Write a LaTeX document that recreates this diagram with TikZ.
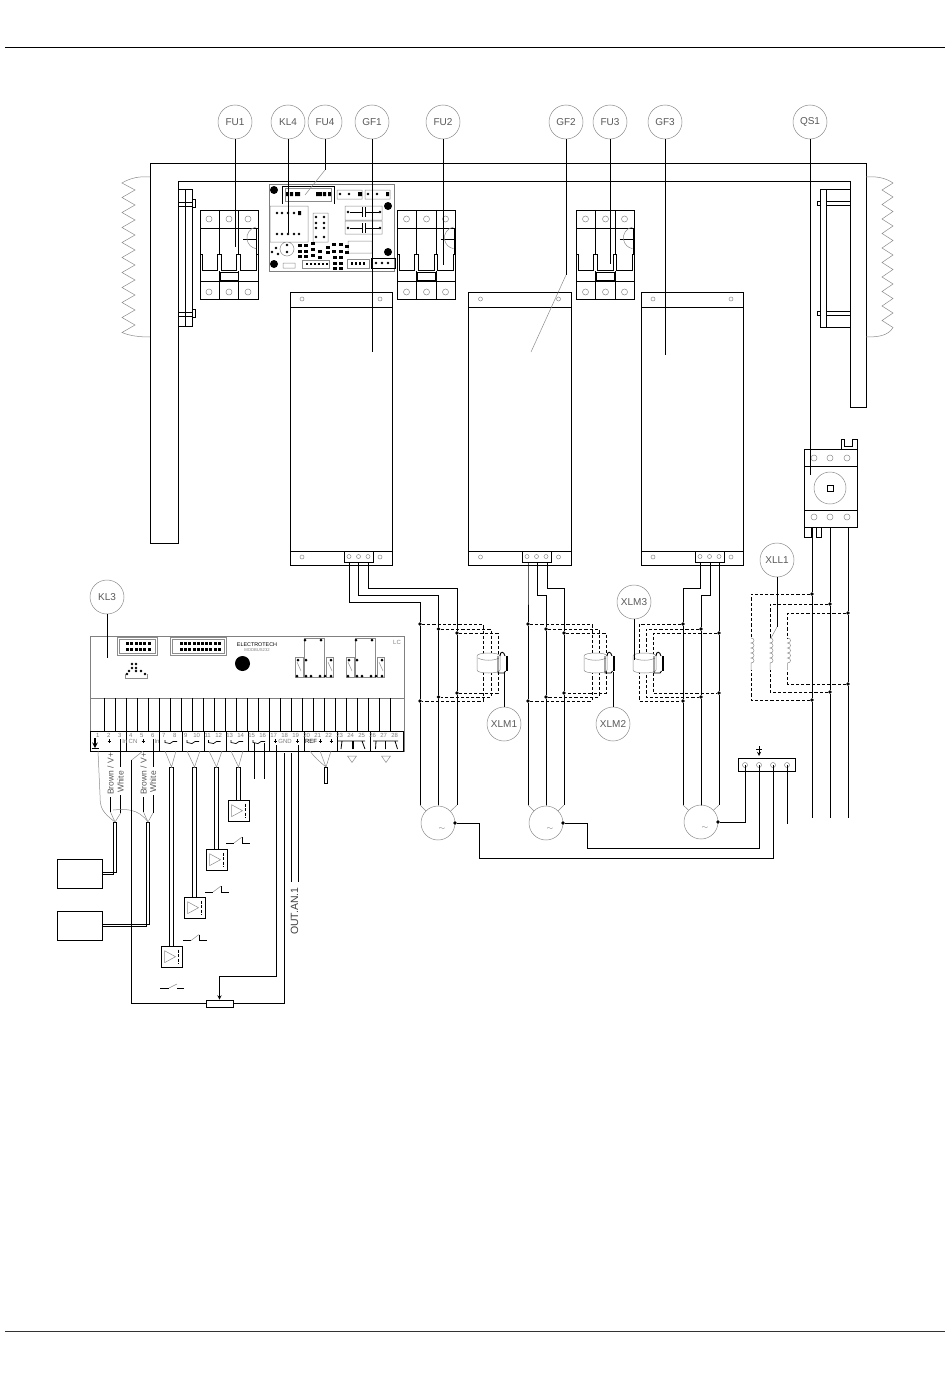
\documentclass[tikz,border=0pt]{standalone}
\usepackage{fontspec}
\setmainfont{Liberation Sans}
\usetikzlibrary{positioning}

\tikzset{
  wire/.style={line width=.9pt,black},
  thingray/.style={line width=.5pt,black!45},
  dashwire/.style={line width=.9pt,black,dash pattern=on 3.2pt off 2pt},
  balloon/.style={circle,draw=black!45,line width=.5pt,minimum size=34pt,inner sep=0pt,
    text=black!65,font=\fontsize{10}{10}\selectfont},
  dot/.style={circle,fill=black,inner sep=0pt,minimum size=3.6pt},
  pcbdot/.style={circle,fill=black,inner sep=0pt,minimum size=2.6pt},
  motor/.style={circle,draw=black!45,line width=.5pt,minimum size=34pt,inner sep=0pt},
  sensorbox/.style={rectangle,draw=black,line width=.9pt,minimum width=21pt,minimum height=20.5pt,
    inner sep=0pt,anchor=north},
  numtxt/.style={text=black!50,inner sep=0pt,font=\fontsize{6}{6}\selectfont},
  sidetxt/.style={rotate=90,anchor=west,inner sep=0pt,text=black!65,font=\fontsize{8.5}{8.5}\selectfont},
}

% breaker, left edge at #1
\newcommand{\breakerunit}[1]{
  \begin{scope}[shift={(#1,0)}]
    \draw[wire] (0,210) rectangle (58,299);
    \draw[wire] (19,210) -- (19,254) (38.5,210) -- (38.5,254)
      (19,271) -- (19,299) (38.5,271) -- (38.5,299)
      (0,228) -- (58,228) (0,281) -- (58,281);
    \draw[wire] (0,254) -- (2,254) -- (2,270.5) -- (17,270.5) -- (17,254) -- (21,254) -- (21,270.5)
      -- (36.5,270.5) -- (36.5,254) -- (40,254) -- (40,270.5) -- (56,270.5) -- (56,254) -- (58,254);
    \draw[wire] (20,272.5) rectangle (38,280);
    \draw[wire] (43,228) -- (56.5,228) -- (56.5,254) (43,239) -- (56.5,239);
    \draw[thingray] (56,227) arc[start angle=100,end angle=260,radius=11pt];
    \foreach \sx in {9,29,48} {
      \draw[thingray] (\sx,219) circle (3pt);
      \draw[thingray] (\sx,292) circle (3pt);
    }
  \end{scope}
}

% drive body
\newcommand{\driveunit}[2]{
  \begin{scope}[shift={(#1,0)}]
    \draw[wire] (0,292) rectangle (102.5,565);
    \draw[wire] (0,307) -- (102.5,307) (0,551) -- (102.5,551);
    \foreach \sx in {12,90} {
      \draw[thingray] (\sx,299) circle (2pt);
      \draw[thingray] (\sx,557) circle (2pt);
    }
  \end{scope}
  \begin{scope}[shift={(#2,0)}]
    \draw[wire,fill=white] (0,551) rectangle (29,562.5);
    \foreach \sx in {5,14.5,24} \draw[thingray] (\sx,556.5) circle (2pt);
  \end{scope}
}

% current clamp
\newcommand{\clampunit}[1]{
  \begin{scope}[shift={(#1,0)}]
    \draw[thingray,fill=white] (0,656) .. controls (0,652) and (23,652) .. (23,656) -- (23,670)
      .. controls (23,674) and (0,674) .. (0,670) -- cycle;
    \draw[thingray] (1,658) .. controls (6,661) and (17,661) .. (22,658);
    \draw[wire] (21,656) -- (21,673) -- (27,673) -- (28.5,671);
    \draw[line width=2pt] (29.5,656) -- (29.5,671);
    \draw[wire] (23,656) .. controls (23,651) and (27,651) .. (28,656);
  \end{scope}
}

\begin{document}
\begin{tikzpicture}[x=1pt,y=-1pt]
  \useasboundingbox (0,0) rectangle (950,1378);
  \fill[white] (0,0) rectangle (950,1378);

  % page rules
  \draw[line width=.7pt] (5,47) -- (945,47);
  \draw[line width=.7pt,black!80] (5,1331) -- (945,1331);

  % cabinet frame
  \draw[wire] (178,543) -- (150,543) -- (150,163) -- (866,163) -- (866,407) -- (850,407) -- (850,181)
    -- (178,181) -- cycle;

  % fans
  \draw[wire] (178,189) -- (192,189) -- (192,326) -- (178,326) (185,189) -- (185,326)
    (178,202) -- (192,202) (178,206) -- (192,206) (178,312) -- (192,312) (178,316) -- (192,316)
    (192,199) -- (195,199) -- (195,207) -- (192,207) (192,309) -- (195,309) -- (195,317) -- (192,317);
  \draw[wire] (850,189) -- (820,189) -- (820,327) -- (850,327) (826,189) -- (826,327)
    (826,201) -- (850,201) (826,205) -- (850,205) (826,311) -- (850,311) (826,315) -- (850,315)
    (820,201) -- (817,201) -- (817,205.5) -- (820,205.5) (820,311) -- (817,311) -- (817,315.5) -- (820,315.5);
  \draw[thingray] (150,177) .. controls (140,176) and (130,178) .. (122,183)
    \foreach \k in {0,...,9} { -- (135,{190+15*\k}) -- (122,{197.5+15*\k}) }
    .. controls (130,336) and (140,337) .. (150,337);
  \draw[thingray] (866,177) .. controls (876,176) and (886,178) .. (893,183)
    \foreach \k in {0,...,9} { -- (882,{190+14.5*\k}) -- (893,{197+14.5*\k}) }
    .. controls (888,336) and (878,337) .. (866,337);

  % breakers
  \breakerunit{200}
  \breakerunit{397.5}
  \breakerunit{576.5}

  % PCB top
  \draw[line width=.7pt,black!50] (269,184) rectangle (394,271);
  \foreach \px/\py in {274/190,388/206,388/252,274/264} \fill (\px,\py) circle (4pt);
  \draw[line width=.7pt] (282,186) -- (334,186) (282,186) -- (282,204) (334,186) -- (334,204);
  \draw[thingray] (285,188) rectangle (331,201);
  \fill (286,192) rectangle (289,196) (290,192) rectangle (293,196) (295,192) rectangle (300,196)
    (316,192) rectangle (322,196) (323,192) rectangle (326,196) (328,192) rectangle (331,196);
  \draw[thingray] (337,190) rectangle (362,199) (365,190) rectangle (390,199)
    (270,206) rectangle (308,242) (313,213) rectangle (328,242)
    (345,206) rectangle (382,220) (345,221) rectangle (382,234)
    (348,241) rectangle (372,253) (283,263) rectangle (295,268) (287,249) circle (7pt);
  \foreach \px/\py in {340/194,349/194,368/194,377/194,277/213,282/213,288/213,294/213,
    277/234,282/234,288/234,294/234,299/234,316/217,324/217,316/223,324/223,316/228,324/228,
    316/237,324/237,287/245,287/252,276/248,272/252,278/254}
    \node[pcbdot] at (\px,\py) {};
  \fill (358,192) rectangle (362,196) (386,192) rectangle (389,196) (298,211) rectangle (301,215);
  \foreach \cy in {212,228} {
    \node[pcbdot] (capa\cy) at (348,\cy) {};
    \node[pcbdot] (capb\cy) at (380,\cy) {};
    \draw[line width=.7pt] (capa\cy) -- (362,\cy) (362,{\cy-5}) -- (362,{\cy+5})
      (365,{\cy-5}) -- (365,{\cy+5}) (365,\cy) -- (capb\cy);
  }
  \foreach \px/\py in {298/244,304/244,311/242,298/250,304/250,311/248,318/250,298/255,304/255,
    311/254,318/256,326/246,332/243,339/243,326/251,332/250,339/250,333/256,339/256,
    333/262,339/262,333/267,339/267,345/245,345/251} \fill (\px,\py) rectangle ++(4,2.5);
  \draw[thingray] (302,260) rectangle (329,268) (347,259) rectangle (369,268);
  \draw[line width=.7pt] (371,258) rectangle (395,268);
  \foreach \px in {306,310,...,326} \fill (\px,263) rectangle ++(2.4,1.5);
  \foreach \px in {351,355,...,365} \fill (\px,262) rectangle ++(2.4,3);
  \foreach \px in {376,382,388} \node[pcbdot] at (\px,263) {};

  % drives
  \driveunit{290}{344}
  \driveunit{468.5}{522}
  \driveunit{641}{695}

  % disconnector
  \draw[wire] (804,449) rectangle (857,527);
  \draw[wire] (804,466) -- (857,466) (804,510) -- (857,510);
  \draw[wire] (841,449) -- (841,439) -- (844,439) -- (844,446) -- (852,446) -- (852,439) -- (857,439) -- (857,449);
  \draw[wire] (804,527) -- (804,537) -- (811,537) -- (811,527) (816,527) -- (816,537) -- (821,537) -- (821,527);
  \draw[thingray] (830,488) circle (16pt);
  \draw[wire] (827,485) rectangle (833,491);
  \foreach \sx in {814,830,847} {
    \draw[thingray] (\sx,458) circle (3pt);
    \draw[thingray] (\sx,517) circle (3pt);
  }

  % motors
  \node[motor] (M1) at (438,823) {};
  \node[motor] (M2) at (546,823) {};
  \node[motor] (M3) at (701,822) {};
  \foreach \m in {1,2,3} \node[numtxt,font=\fontsize{8}{8}\selectfont] (tilde\m) at ([shift={(4,6)}]M\m.center) {$\sim$};

  % motor cables and junctions
  \foreach \n/\tx/\wy/\mx/\lx/\ya/\yb/\m in {
    1/349/602/420/483/624/701/1, 2/358/595/438.5/491/629/697/1, 3/368/588/457/498/633/693/1,
    4/528/588/528/592/624/701/2, 5/537/595/546/599/629/697/2, 6/547/588/564/606/633/693/2,
    7/700/588/683/639/624/701/3, 8/710/595/701/646/629/697/3, 9/719/588/719/653/633/693/3} {
    \coordinate (t\n) at (\tx,562);
    \node[dot] (a\n) at (\mx,\ya) {};
    \node[dot] (b\n) at (\mx,\yb) {};
    \coordinate (e\n) at (\mx,805);
    \draw[wire] (t\n) |- (\mx,\wy) -- (a\n) -- (b\n) -- (e\n);
    \draw[thingray] (e\n) -- (M\m);
    \draw[dashwire] (a\n) -| (\lx,\yb) -- (b\n);
  }

  % clamps
  \clampunit{477}
  \clampunit{584}
  \clampunit{633}

  % choke and line side
  \foreach \q/\wx/\lx/\ya/\yb in {1/812/751/594/700, 2/830/770/604/692, 3/848/787.5/613/684} {
    \coordinate (q\q) at (\wx,527);
    \coordinate (qe\q) at (\wx,818);
    \node[dot] (la\q) at (\wx,\ya) {};
    \node[dot] (lb\q) at (\wx,\yb) {};
    \draw[wire] (q\q) -- (la\q) -- (lb\q) -- (qe\q);
    \draw[dashwire] (la\q) -| (\lx,638);
    \draw[dashwire] (lb\q) -| (\lx,670);
    \draw[thingray] (\lx,638) \foreach \k in {0,...,4} {
      .. controls ({\lx+4},{638+5*\k}) and ({\lx+4},{643+5*\k}) .. (\lx,{643+5*\k}) } -- (\lx,670);
  }

  % earth bar
  \node[draw=black,line width=.9pt,minimum width=57pt,minimum height=13pt,inner sep=0pt] (PE) at (766.5,764.5) {};
  \foreach \e/\ex in {1/745,2/759,3/773,4/787} {
    \coordinate (pe\e) at (\ex,765);
    \draw[thingray] (pe\e) circle (2.5pt);
  }
  \node[dot] (mo1) at (455,823) {};
  \node[dot] (mo2) at (563,823) {};
  \node[dot] (mo3) at (718,822) {};
  \coordinate (pend) at (787,824);
  \draw[wire] (mo1) -- (479,823) -- (479,858) -| (pe3);
  \draw[wire] (mo2) -- (587,823) -- (587,848) -| (pe2);
  \draw[wire] (mo3) -| (pe1);
  \draw[wire] (pe4) -- (pend);
  \draw[wire,-stealth] (759,746) -- (759,756);
  \draw[line width=.6pt] (756,749) -- (762,749);

  % KL3 board
  \draw[line width=.7pt,black!50] (90,636) rectangle (404,751);
  \draw[line width=.7pt,black!50] (90,698) -- (404,698);
  \draw[wire] (90,731) -- (404,731) (90,751) -- (404,751);
  \foreach \i in {0,...,26} \draw[wire] ({104.3+11*\i},698) -- ({104.3+11*\i},731);
  \foreach \sx in {90.7,126.7,159.7,182,204,226,248,269,304,337,370,403}
    \draw[wire] (\sx,731) -- (\sx,751);
  \foreach \i in {1,...,28} \node[numtxt] (n\i) at ({86.7+11*\i},735.5) {\i};

  % terminal marks
  \foreach \sx in {165,187,208.5,231,253} \draw[line width=.7pt] (\sx,740) -- (\sx,742.5)
    -- ({\sx+5},743.5) -- ({\sx+8},741.5) -- ({\sx+12},741.5);
  \foreach \sx in {109,143,275.7,297.7,320,331} \draw[line width=.8pt] ({\sx-1.5},741) -- ({\sx+1.5},741) (\sx,739) -- (\sx,743);
  \draw[line width=1.4pt,-stealth] (95,738) -- (95,748);
  \draw[line width=.7pt] (91.5,748.5) -- (98.5,748.5);
  \node[numtxt] (inA) at (125,741.5) {In};
  \node[numtxt] (cmA) at (133,741.5) {CN};
  \node[numtxt] (inB) at (157,741.5) {In};
  \node[numtxt] (gnd) at (285,741) {GND};
  \node[numtxt,text=black] (refT) at (311,741) {REF};
  \draw[line width=.8pt] (338,741) -- (365,741) (342,741) -- (341,749) (353,741) -- (353,749)
    (362,741) -- (365,749) (373,741) -- (398,741) (376,741) -- (375.5,749) (385.5,741) -- (385.5,749) (395,741) -- (397.5,749);
  \draw[line width=1.6pt] (353,741) -- (353,749);
  \draw[thingray] (347.5,756) -- (356.5,756) -- (352,762.5) -- cycle (381.5,756) -- (390.5,756) -- (386,762.5) -- cycle;

  % KL3 connectors
  \draw[thingray] (117,637) rectangle (157,655) (119,639) rectangle (155,653)
    (170,637) rectangle (226,655) (172,639) rectangle (224,653);
  \foreach \k in {0,...,5} { \fill ({126+4.3*\k},642) rectangle ++(3,2.8); \fill ({126+4.3*\k},648) rectangle ++(3,2.8); }
  \foreach \k in {0,...,9} { \fill ({180+4.2*\k},642) rectangle ++(3,2.8); \fill ({180+4.2*\k},648) rectangle ++(3,2.8); }
  \foreach \px/\py in {132/664,136/664,132/668,136/668,129/671,136/671,141/671,127/674,145/674}
    \node[pcbdot] at (\px,\py) {};
  \draw[thingray] (125,674) -- (125,678) -- (147,678) -- (147,674);
  \fill (242.5,663.5) circle (7.5pt);
  \node[inner sep=0pt,font=\fontsize{5.4}{5.4}\selectfont] (brand) at (257,645) {ELECTROTECH};
  \node[inner sep=0pt,text=black!50,below=1pt of brand,font=\fontsize{4.2}{4.2}\selectfont] (model) {MODBUS232};
  \node[numtxt] (lcT) at (397,642) {LC};

  % relays
  \foreach \rx in {0,51} {
    \begin{scope}[shift={(\rx,0)}]
      \draw[thingray] (304,638) rectangle (324,677) (295,657) rectangle (303,677) (326,657) rectangle (333,677);
      \draw[thingray] (297,662) -- (301,671) (328,662) -- (332,671);
      \foreach \px/\py in {305/640,321/640,306/660,306/676,311/676,320/676,325/676,297/676,298/660,331/660,331/676}
        \node[pcbdot,minimum size=3pt] at (\px,\py) {};
    \end{scope}
  }

  % sensor wires and boxes
  \foreach \n/\cx/\ytop/\la/\lb in {1/171.5/946/165/176,2/194.5/897/187/200,3/216.5/849/209/222,4/238.5/800/231/243} {
    \node[sensorbox] (S\n) at (\cx,\ytop) {};
    \coordinate (c\n) at (\cx,767);
    \draw[wire] ([xshift=-2pt]S\n.north) |- (c\n) -| ([xshift=2pt]S\n.north);
    \draw[thingray] (\la,751) -- (c\n) -- (\lb,751);
    \draw[thingray] ([shift={(-7,-6)}]S\n.center) -- ([shift={(-7,6)}]S\n.center) -- ([shift={(4,0)}]S\n.center) -- cycle;
    \draw[line width=.8pt,dash pattern=on 3pt off 1.5pt] ([shift={(6.5,-7)}]S\n.center) -- ([shift={(6.5,7)}]S\n.center);
  }

  % contact symbols
  \draw[wire] (160,988) -- (169,988) (177,988) -- (184,988);
  \draw[thingray] (169,988) -- (177,984);
  \foreach \sx/\sy in {183/940.5,205/892,226/843} {
    \draw[wire] (\sx,\sy) -- ({\sx+8},\sy) ({\sx+16},{\sy-6}) -- ({\sx+16},\sy) -- ({\sx+24},\sy);
    \draw[thingray] ({\sx+8},\sy) -- ({\sx+16},{\sy-6});
  }

  % sensors 4-20 mA
  \node[draw=black,line width=.9pt,minimum width=45pt,minimum height=29pt,inner sep=0pt] (T1) at (79.5,873.5) {};
  \node[draw=black,line width=.9pt,minimum width=45pt,minimum height=29pt,inner sep=0pt] (T2) at (79.5,925.5) {};
  \coordinate (v1a) at (110.5,812);
  \coordinate (v1b) at (120.7,813);
  \coordinate (v1) at (115,822);
  \coordinate (v2a) at (143.5,812);
  \coordinate (v2b) at (153,813);
  \coordinate (v2) at (148,822);
  \draw[wire] ([yshift=-1pt]T1.east) -| (113,822) -- (116.7,822) |- ([yshift=1pt]T1.east);
  \draw[wire] ([yshift=-1pt]T2.east) -| (146.5,822) -- (149.5,822) |- ([yshift=1pt]T2.east);
  \draw[wire] (v1a) -- (110.5,797) (v1b) -- (120.7,795) (v2a) -- (143.5,797) (v2b) -- (153,795);
  \draw[thingray] (v1a) -- (v1) -- (v1b) (v2a) -- (v2) -- (v2b);
  \draw[thingray] (v1) .. controls (102,812) and (100,808) .. (100,795) -- (98,751);
  \draw[thingray] (113,810) .. controls (125,809) and (138,808) .. (v2);
  \draw[wire] (120.7,739) -- (120.7,767) (153,739) -- (153,767);
  \node[sidetxt] (brownA) at (110.5,795) {Brown / V+};
  \node[sidetxt] (whiteA) at (120.7,793) {White};
  \node[sidetxt] (brownB) at (143.5,795) {Brown / V+};
  \node[sidetxt] (whiteB) at (153,793) {White};

  % potentiometer and analog side
  \node[draw=black,line width=.9pt,minimum width=27pt,minimum height=7pt,inner sep=0pt] (POT) at (219.5,1003.5) {};
  \coordinate (tcom) at (131.7,760);
  \coordinate (t18a) at (284,753);
  \coordinate (t17) at (276.7,745);
  \draw[thingray] (tcom) -- (143,751);
  \draw[wire] (tcom) |- (POT.west);
  \draw[wire] (POT.east) -| (t18a);
  \draw[wire,-stealth] (t17) |- (219.5,976) -- (POT.north);
  \coordinate (t19) at (298,745);
  \coordinate (t18b) at (291.7,753);
  \draw[wire] (t18b) -- (291.7,882) (t19) -- (298,882);
  \node[rotate=90,anchor=west,inner sep=0pt,text=black!75,font=\fontsize{10.5}{10.5}\selectfont] (outan) at (294.5,935) {OUT.AN.1};
  \coordinate (t15) at (254,743);
  \coordinate (t16) at (264,743);
  \draw[wire] (t15) -- (254,779) (t16) -- (264,779);

  % REF potentiometer lead
  \draw[wire] (324.5,783) rectangle (327.6,767);
  \draw[thingray] (310,751) .. controls (314,757) and (320,762) .. (326,767) (320,751) -- (326,767) (331,751) -- (326,767);

  % balloons and leaders
  \foreach \b/\bx/\by in {FU1/235/122,KL4/288/122,FU4/325/122,GF1/372/122,FU2/443/122,GF2/566/122,
    FU3/610/122,GF3/665/122,QS1/810/122,KL3/107/597,XLM1/504/724,XLM2/613/724,XLM3/634/602,XLL1/777/560}
    \node[balloon] (\b) at (\bx,\by) {\b};
  \coordinate (FU1e) at (235,247);
  \coordinate (KL4e) at (288,233);
  \coordinate (FU4e) at (325,170);
  \coordinate (GF1e) at (372,352);
  \coordinate (FU2e) at (443,265);
  \coordinate (GF2e) at (566,275);
  \coordinate (FU3e) at (610,264);
  \coordinate (GF3e) at (665,355);
  \coordinate (QS1e) at (810,475);
  \coordinate (KL3e) at (107,658);
  \coordinate (XLM1e) at (504,672);
  \coordinate (XLM2e) at (613,672);
  \coordinate (XLM3e) at (634,660);
  \coordinate (XLL1e) at (777,627);
  \foreach \b in {FU1,KL4,FU4,GF1,FU2,GF2,FU3,GF3,QS1,KL3,XLM1,XLM2,XLM3,XLL1}
    \draw[wire] (\b) -- (\b e);
  \draw[thingray] (FU4e) -- (305,195);
  \draw[thingray] (GF2e) -- (531,352);
  \draw[thingray] (XLL1e) -- (771,638);
\end{tikzpicture}
\end{document}
